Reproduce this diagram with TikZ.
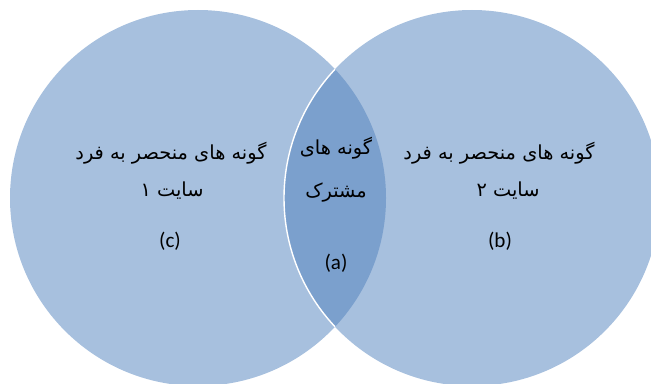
\documentclass[tikz,border=0pt]{standalone}
\usepackage{fontspec}
\setmainfont{Carlito}
\newfontfamily\arabicfont[Script=Arabic]{DejaVu Sans}
\TeXXeTstate=1

\begin{document}
\begin{tikzpicture}[x=0.03cm,y=0.03cm]
  \definecolor{setblue}{RGB}{167,192,222}
  \definecolor{lensblue}{RGB}{123,160,205}
  \tikzset{
    SetStyle/.style = {fill = setblue},
    LensStyle/.style = {fill = lensblue},
    FaText/.style = {
      font = \arabicfont\fontsize{16.5}{19}\selectfont,
      inner sep = 0pt},
    TagText/.style = {
      font = \fontsize{18}{21}\selectfont,
      inner sep = 0pt}}
  \clip (0,0) rectangle (651,383);
  \coordinate (site1) at (198,185);
  \coordinate (site2) at (472,185);
  \path[SetStyle] (site1) circle[radius=188];
  \path[SetStyle] (site2) circle[radius=188];
  \begin{scope}
    \clip (site1) circle[radius=188];
    \path[LensStyle] (site2) circle[radius=188];
    \draw[white, line width=1.2pt] (site2) circle[radius=188];
  \end{scope}
  \node[FaText] (left1) at (171,230) {\beginR گونه های منحصر به فرد\endR};
  \node[FaText] (left2) at (172,192) {\beginR سایت ۱\endR};
  \node[TagText] (leftTag) at (170,142) {(c)};
  \node[FaText] (mid1) at (336,235) {\beginR گونه های\endR};
  \node[FaText] (mid2) at (336,190) {\beginR مشترک\endR};
  \node[TagText] (midTag) at (336,120) {(a)};
  \node[FaText] (right1) at (499,230) {\beginR گونه های منحصر به فرد\endR};
  \node[FaText] (right2) at (508,192) {\beginR سایت ۲\endR};
  \node[TagText] (rightTag) at (500,142) {(b)};
\end{tikzpicture}
\end{document}
